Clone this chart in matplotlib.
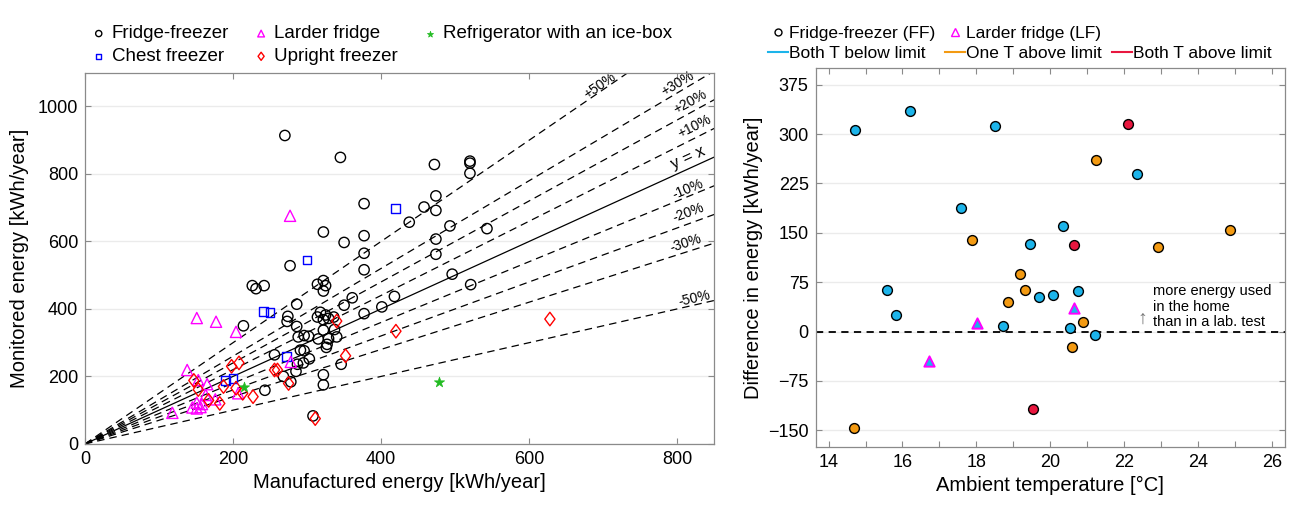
import numpy as np
import matplotlib
matplotlib.use('Agg')
import matplotlib.pyplot as plt
from matplotlib.lines import Line2D
from matplotlib.path import Path

plt.rcParams['font.family'] = ['Liberation Sans', 'DejaVu Sans']

# left panel: manufactured vs monitored energy (kWh/year)
ff_x = [270, 345, 472, 520, 520, 520, 377, 474, 458, 474, 438, 322, 377, 350, 493, 543, 474, 377, 474, 277,
        377, 322, 496, 521, 226, 231, 242, 314, 325, 322, 286, 361, 350, 401, 418, 377, 214, 274, 273, 286,
        318, 325, 314, 322, 329, 336, 322, 337, 340, 329, 315, 296, 302, 288, 327, 326, 291, 296, 303, 295,
        287, 256, 285, 268, 278, 346, 322, 322, 243, 308]
ff_y = [914, 849, 828, 838, 832, 802, 712, 735, 702, 692, 657, 628, 617, 597, 646, 638, 607, 565, 562, 528,
        516, 484, 503, 472, 469, 460, 469, 473, 469, 453, 414, 433, 411, 406, 437, 386, 350, 378, 363, 348,
        390, 382, 376, 368, 372, 376, 337, 339, 317, 312, 311, 321, 319, 317, 295, 286, 278, 276, 252, 240,
        236, 264, 215, 200, 184, 236, 205, 175, 159, 83]
chest_x = [419, 300, 241, 250, 272, 190, 200]
chest_y = [697, 545, 393, 389, 259, 189, 193]
larder_x = [277, 151, 177, 204, 138, 153, 165, 163, 176, 151, 145, 151, 156, 158, 118, 207, 278]
larder_y = [676, 373, 362, 332, 219, 189, 177, 145, 132, 122, 108, 105, 109, 118, 92, 150, 243]
upright_x = [628, 340, 420, 352, 256, 260, 275, 311, 227, 213, 204, 198, 208, 147, 153, 167, 182, 187]
upright_y = [370, 364, 334, 261, 219, 219, 179, 75, 140, 150, 165, 230, 240, 188, 161, 129, 120, 170]
icebox_x = [478, 215]
icebox_y = [184, 169]
ref_pct = [50, 30, 20, 10, -10, -20, -30, -50]

# right panel: ambient temperature vs difference in energy
below_t = [14.71, 16.2, 15.57, 15.83, 17.57, 18.51, 18.71, 19.45, 22.34, 20.33, 19.68, 20.07, 20.74, 20.52, 21.21]
below_d = [306, 335, 63, 25, 188, 312, 8, 133, 240, 160, 53, 56, 61, 5, -5]
one_t = [17.88, 14.68, 19.17, 19.32, 18.86, 21.23, 22.9, 24.86, 20.89, 20.59]
one_d = [139, -147, 87, 63, 45, 261, 128, 155, 14, -24]
both_t = [22.11, 20.65, 19.54]
both_d = [316, 131, -118]
lf_t = [18.02, 16.72, 20.63]
lf_d = [13, -45, 35]

c_below = '#1cb4ea'
c_one = '#f39a12'
c_both = '#e8173f'
spine_c = '#8a8a8a'

diamond = Path([(0, 1), (0.75, 0), (0, -1), (-0.75, 0), (0, 1)],
               [Path.MOVETO, Path.LINETO, Path.LINETO, Path.LINETO, Path.CLOSEPOLY])

fig = plt.figure(figsize=(12.92, 5.05), dpi=100)
ax1 = fig.add_axes([0.0658, 0.121, 0.487, 0.735])
ax2 = fig.add_axes([0.6313, 0.1155, 0.3633, 0.7493])

def style(ax):
    for s in ax.spines.values():
        s.set_color(spine_c)
        s.set_linewidth(0.9)
    ax.tick_params(direction='in', top=True, right=True, length=4, color=spine_c,
                   labelsize=13, pad=5)
    ax.grid(axis='y', color='#ebebeb', linewidth=1)
    ax.set_axisbelow(True)

# reference lines
xs = np.array([0, 850])
for p in ref_pct:
    k = 1 + p / 100
    ax1.plot(xs, k * xs, color='black', ls=(0, (6, 4)), lw=0.9, zorder=1)
ax1.plot(xs, xs, color='black', lw=0.9, zorder=1)

lbl_pos = {50: (695, 1062), 30: (801, 1068), 20: (818, 1015), 10: (824, 940),
           -10: (815, 755), -20: (815, 684), -30: (812, 596), -50: (823, 430)}
for p in ref_pct:
    k = 1 + p / 100
    x0, y0 = lbl_pos[p]
    ax1.text(x0, y0, '%+d%%' % p if p > 0 else '%d%%' % p, fontsize=10,
             rotation=np.degrees(np.arctan(k)), transform_rotates_text=True,
             rotation_mode='anchor', ha='center', va='center', zorder=2)
ax1.text(815, 848, 'y = x', fontsize=12, rotation=45, transform_rotates_text=True,
         rotation_mode='anchor', ha='center', va='center')

ax1.scatter(ff_x, ff_y, s=55, facecolors='none', edgecolors='black', linewidths=1.0, label='Fridge-freezer', zorder=3)
ax1.scatter(chest_x, chest_y, s=40, marker='s', facecolors='none', edgecolors='#0000ff', linewidths=1.0, label='Chest freezer', zorder=3)
ax1.scatter(larder_x, larder_y, s=65, marker='^', facecolors='none', edgecolors='#ff00ff', linewidths=1.0, label='Larder fridge', zorder=3)
ax1.scatter(upright_x, upright_y, s=95, marker=diamond, facecolors='none', edgecolors='#ff0000', linewidths=1.0, label='Upright freezer', zorder=3)
ax1.scatter(icebox_x, icebox_y, s=60, marker='*', facecolors='#22bb22', edgecolors='#22bb22', linewidths=0.5, label='Refrigerator with an ice-box', zorder=3)

ax1.set_xlim(0, 850)
ax1.set_ylim(0, 1100)
ax1.set_xticks([0, 200, 400, 600, 800])
ax1.set_yticks([0, 200, 400, 600, 800, 1000])
style(ax1)
ax1.set_xlabel('Manufactured energy [kWh/year]', fontsize=14.5, labelpad=4)
ax1.set_ylabel('Monitored energy [kWh/year]', fontsize=14.5, labelpad=6)
ax1.legend(loc='lower center', bbox_to_anchor=(0.47, 1.0), ncol=3, frameon=False, fontsize=13.5,
           markerscale=0.6, handletextpad=0.2, columnspacing=1.2, labelspacing=0.3,
           handlelength=1.0, borderaxespad=0.0)

# right panel
ax2.axhline(0, color='black', ls=(0, (4, 3)), lw=1.3, zorder=1)
ax2.scatter(below_t, below_d, s=50, color=c_below, edgecolors='black', linewidths=1.0, zorder=3)
ax2.scatter(one_t, one_d, s=50, color=c_one, edgecolors='black', linewidths=1.0, zorder=3)
ax2.scatter(both_t, both_d, s=50, color=c_both, edgecolors='black', linewidths=1.0, zorder=3)
ax2.scatter(lf_t, lf_d, s=55, marker='^', color=c_below, edgecolors='#ff00ff', linewidths=1.4, zorder=4)
ax2.text(22.48, 19, '\u2191', color='#777777', fontsize=14, ha='center', va='center')
ax2.text(22.78, 38, 'more energy used\nin the home\nthan in a lab. test', fontsize=10.5,
         ha='left', va='center', linespacing=1.1)

ax2.set_xlim(13.65, 26.35)
ax2.set_ylim(-175, 400)
ax2.set_xticks(range(14, 27))
ax2.set_xticklabels([str(t) if t % 2 == 0 else '' for t in range(14, 27)])
ax2.set_yticks([-150, -75, 0, 75, 150, 225, 300, 375])
style(ax2)
ax2.set_xlabel('Ambient temperature [\u00b0C]', fontsize=14.5, labelpad=4)
ax2.set_ylabel('Difference in energy [kWh/year]', fontsize=14.5, labelpad=4)

handles = [Line2D([], [], ls='none', marker='o', mfc='none', mec='black', ms=5),
           Line2D([], [], color=c_below, lw=1.5),
           Line2D([], [], ls='none', marker='^', mfc='none', mec='#ff00ff', ms=6),
           Line2D([], [], color=c_one, lw=1.5),
           Line2D([], [], alpha=0),
           Line2D([], [], color=c_both, lw=1.5)]
labels = ['Fridge-freezer (FF)', 'Both T below limit', 'Larder fridge (LF)', 'One T above limit', '', 'Both T above limit']
ax2.legend(handles, labels, loc='lower center', bbox_to_anchor=(0.435, 1.0), ncol=3, frameon=False,
           fontsize=12.5, handletextpad=0.05, columnspacing=0.6, labelspacing=0.3,
           handlelength=1.15, borderaxespad=0.0)

fig.savefig('out.png', dpi=100)
